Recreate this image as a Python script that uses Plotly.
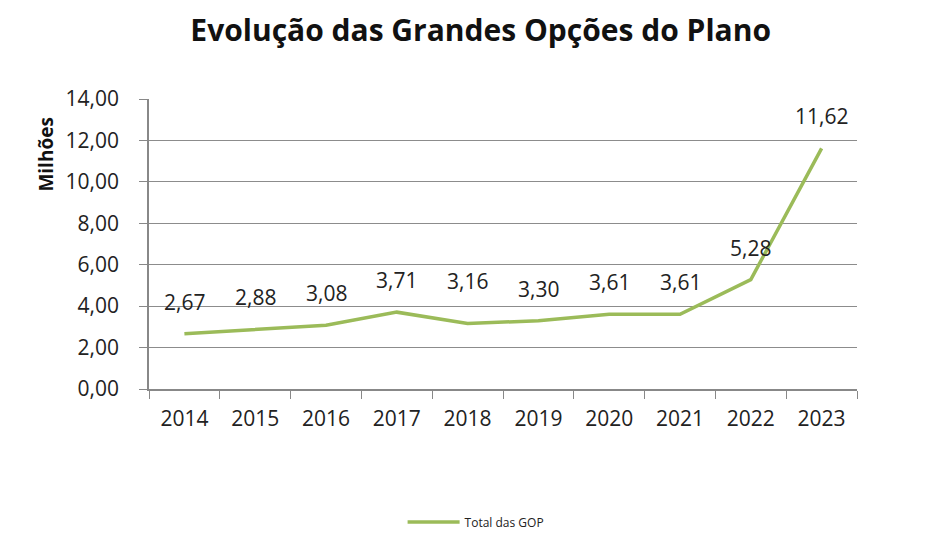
import plotly.graph_objects as go

anos = ['2014', '2015', '2016', '2017', '2018', '2019', '2020', '2021', '2022', '2023']
total_gop = [2.67, 2.88, 3.08, 3.71, 3.16, 3.30, 3.61, 3.61, 5.28, 11.62]
y_ticks = [0, 2, 4, 6, 8, 10, 12, 14]
y_tick_text = ['0,00', '2,00', '4,00', '6,00', '8,00', '10,00', '12,00', '14,00']

verde = '#9BBB59'
fonte = 'Open Sans, Liberation Sans, sans-serif'

fig = go.Figure()

fig.add_trace(go.Scatter(
    x=anos,
    y=total_gop,
    mode='lines',
    name='Total das GOP',
    line=dict(color=verde, width=3.5),
))

# rótulos de dados (estilo Excel); x pelo índice da categoria
for i, v in enumerate(total_gop):
    fig.add_annotation(
        x=i, y=v,
        text=f'{v:.2f}'.replace('.', ','),
        showarrow=False,
        yshift=43 if i == 4 else 32,
        font=dict(size=21, color='#222222', family=fonte),
    )

# título do eixo Y (Excel coloca-o acima do centro)
fig.add_annotation(
    xref='paper', yref='paper',
    x=-0.146, y=0.807, xanchor='center', yanchor='middle',
    text='<b>Milhões</b>', textangle=-90,
    showarrow=False,
    font=dict(size=19, color='#111111', family=fonte),
)

fig.update_layout(
    title=dict(
        text='<b>Evolução das Grandes Opções do Plano</b>',
        x=0.505, xanchor='center', y=0.96, yanchor='middle',
        font=dict(size=30, color='#111111', family=fonte),
    ),
    width=936, height=551,
    plot_bgcolor='white',
    paper_bgcolor='white',
    margin=dict(l=141, r=87, t=91, b=170),
    font=dict(family=fonte, color='#222222'),
    showlegend=True,
    legend=dict(
        orientation='h', x=0.462, xanchor='center', y=-0.459, yanchor='middle',
        font=dict(size=12, color='#222222'),
        itemwidth=52,
    ),
)

fig.update_xaxes(
    type='category',
    range=[-0.5, len(anos) - 0.5],
    showline=True, linecolor='#888888', linewidth=1.5,
    ticks='outside', tickson='boundaries', ticklen=8, tickcolor='#888888',
    ticklabelstandoff=10,
    tickfont=dict(size=21, color='#222222'),
    showgrid=False,
)

fig.update_yaxes(
    range=[0, 14],
    tickvals=y_ticks, ticktext=y_tick_text,
    showline=True, linecolor='#888888', linewidth=1.5,
    ticks='outside', ticklen=8, tickcolor='#888888',
    ticklabelstandoff=16,
    gridcolor='#8c8c8c', gridwidth=1,
    tickfont=dict(size=21, color='#222222'),
    zeroline=False,
)

fig.write_html('out.html')
